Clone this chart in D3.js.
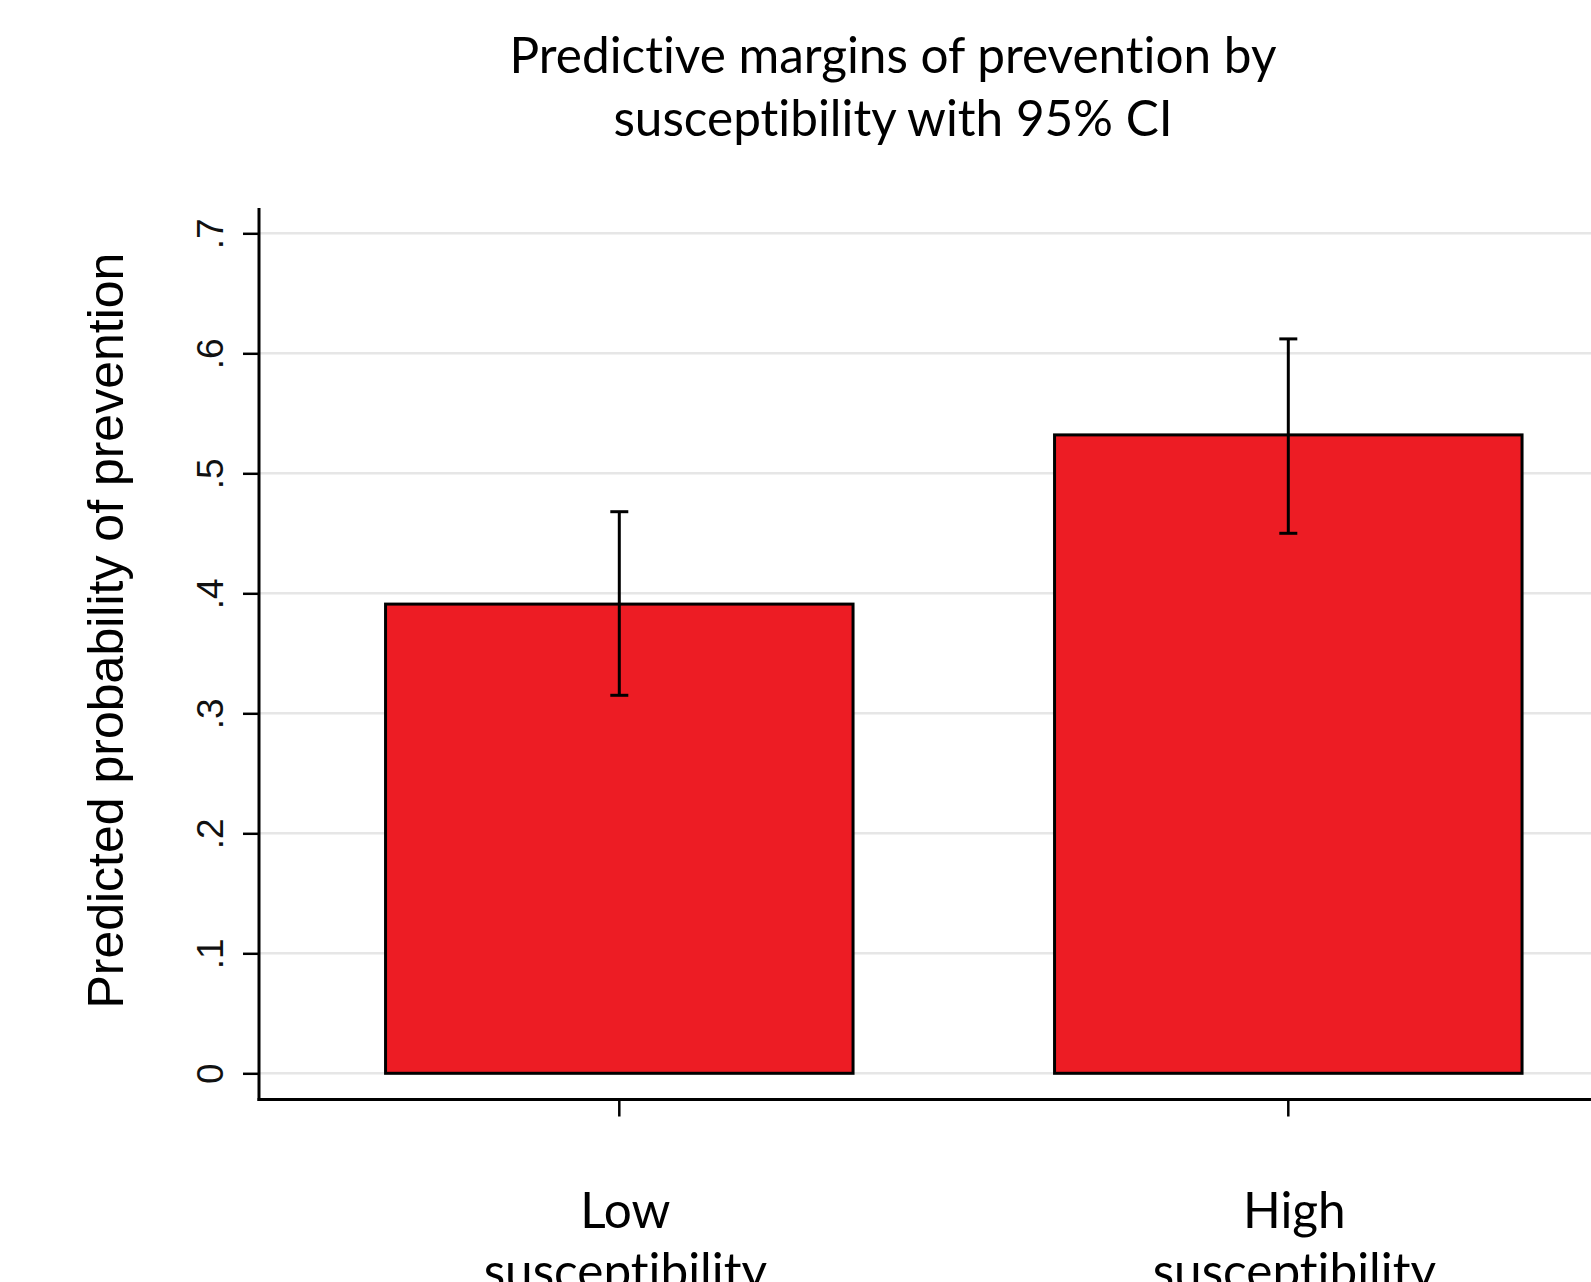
<!DOCTYPE html>
<html>
<head>
<meta charset="utf-8">
<script src="https://cdn.jsdelivr.net/npm/d3@7"></script>
<style>
  html, body { margin: 0; padding: 0; background: #ffffff; overflow: hidden; }
  svg { display: block; }
  text { font-variant-ligatures: none; font-feature-settings: "liga" 0, "clig" 0; }
</style>
</head>
<body>
<div id="chart"></div>
<script>
// ---- data ----
const categories = ["Low susceptibility", "High susceptibility"];
const categoryLines = [["Low", "susceptibility"], ["High", "susceptibility"]];
const margins = [0.391, 0.532];
const ciLower = [0.315, 0.450];
const ciUpper = [0.468, 0.612];
const yTickValues = [0, 0.1, 0.2, 0.3, 0.4, 0.5, 0.6, 0.7];
const yTickLabels = ["0", ".1", ".2", ".3", ".4", ".5", ".6", ".7"];
const titleLines = ["Predictive margins of prevention by", "susceptibility with 95% CI"];
const yAxisTitle = "Predicted probability of prevention";

// ---- layout ----
const W = 1591, H = 1282;
const axisX = 259, axisTop = 208, axisBottomY = 1099.5;
const calibriLike = "Lato, 'Open Sans', sans-serif";
const arialLike = "'Liberation Sans', Arial, sans-serif";

const svg = d3.select("#chart").append("svg")
  .attr("width", W).attr("height", H)
  .style("font-family", arialLike);
svg.append("rect").attr("width", W).attr("height", H).attr("fill", "#ffffff");

const y = d3.scaleLinear().domain([0, 0.7]).range([1073.3, 233.3]);
const x = d3.scaleBand().domain(categories).range([284.8, 1622.8])
  .paddingInner(0.3012).paddingOuter(0.1506);

// gridlines
svg.append("g").selectAll("line").data(yTickValues).join("line")
  .attr("x1", axisX).attr("x2", W)
  .attr("y1", d => y(d)).attr("y2", d => y(d))
  .attr("stroke", "#e6e6e6").attr("stroke-width", 2.5);

// y axis
const yAxis = svg.append("g").attr("transform", `translate(${axisX},0)`)
  .call(d3.axisLeft(y).tickValues(yTickValues)
    .tickFormat((d, i) => yTickLabels[i]).tickSize(16).tickSizeOuter(0));
yAxis.select(".domain").remove();
yAxis.selectAll(".tick line").attr("stroke", "#000").attr("stroke-width", 2.5);
yAxis.selectAll(".tick text")
  .attr("font-family", arialLike).attr("font-size", 37).attr("fill", "#111")
  .attr("text-anchor", "middle")
  .attr("transform", "rotate(-90)")
  .attr("x", 0).attr("y", -36).attr("dy", 0);

// bars
svg.append("g").selectAll("rect").data(categories).join("rect")
  .attr("x", d => x(d)).attr("width", x.bandwidth())
  .attr("y", (d, i) => y(margins[i]))
  .attr("height", (d, i) => y(0) - y(margins[i]))
  .attr("fill", "#ED1C24").attr("stroke", "#000").attr("stroke-width", 3);

// error bars
const eb = svg.append("g").attr("stroke", "#000").attr("stroke-width", 3);
const cx = d => x(d) + x.bandwidth() / 2;
eb.selectAll(".v").data(categories).join("line").attr("class", "v")
  .attr("x1", cx).attr("x2", cx)
  .attr("y1", (d, i) => y(ciLower[i])).attr("y2", (d, i) => y(ciUpper[i]));
eb.selectAll(".capL").data(categories).join("line").attr("class", "capL")
  .attr("x1", d => cx(d) - 9).attr("x2", d => cx(d) + 9)
  .attr("y1", (d, i) => y(ciLower[i])).attr("y2", (d, i) => y(ciLower[i]));
eb.selectAll(".capU").data(categories).join("line").attr("class", "capU")
  .attr("x1", d => cx(d) - 9).attr("x2", d => cx(d) + 9)
  .attr("y1", (d, i) => y(ciUpper[i])).attr("y2", (d, i) => y(ciUpper[i]));

// axis lines
svg.append("line").attr("x1", axisX).attr("x2", axisX)
  .attr("y1", axisTop).attr("y2", axisBottomY + 1.5)
  .attr("stroke", "#000").attr("stroke-width", 3);
const xAxis = svg.append("g").attr("transform", `translate(0,${axisBottomY})`)
  .call(d3.axisBottom(x).tickSize(17).tickSizeOuter(0).tickFormat(""));
xAxis.select(".domain").remove();
xAxis.selectAll(".tick line").attr("stroke", "#000").attr("stroke-width", 2.5);
svg.append("line").attr("x1", axisX - 1.5).attr("x2", W)
  .attr("y1", axisBottomY).attr("y2", axisBottomY)
  .attr("stroke", "#000").attr("stroke-width", 3);

// title (fit Lato size to the reference width of the first line)
const title = svg.append("g").attr("font-family", calibriLike).attr("fill", "#000");
const t1 = title.append("text").attr("x", 893).attr("y", 73)
  .attr("text-anchor", "middle").attr("font-size", 52).text(titleLines[0]);
let fs = 52;
try {
  const w = t1.node().getComputedTextLength();
  if (w > 0) fs = 52 * 767 / w;
} catch (e) {}
t1.attr("font-size", fs);
title.append("text").attr("x", 893).attr("y", 136)
  .attr("text-anchor", "middle").attr("font-size", fs).text(titleLines[1]);

// y axis title
svg.append("text")
  .attr("transform", "translate(123,630.6) rotate(-90)")
  .attr("text-anchor", "middle").attr("font-family", arialLike)
  .attr("font-size", 50).attr("fill", "#000").text(yAxisTitle);

// x category labels (second line is cut by the bottom edge, as in the reference)
const xl = svg.append("g").attr("font-family", calibriLike).attr("fill", "#000")
  .attr("font-size", fs).attr("text-anchor", "middle");
categories.forEach((c, i) => {
  const t = xl.append("text").attr("x", cx(c) + 6).attr("y", 1228);
  t.append("tspan").attr("x", cx(c) + 6).attr("y", 1228).text(categoryLines[i][0]);
  t.append("tspan").attr("x", cx(c) + 6).attr("y", 1289).text(categoryLines[i][1]);
});
</script>
</body>
</html>
